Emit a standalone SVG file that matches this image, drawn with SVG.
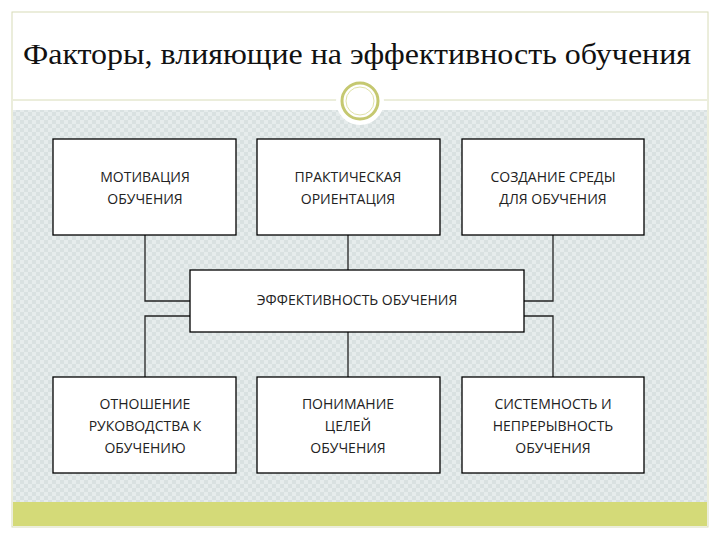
<svg xmlns="http://www.w3.org/2000/svg" width="720" height="540" viewBox="0 0 720 540">
<defs>
<pattern id="p" width="8" height="8" patternUnits="userSpaceOnUse"><rect width="8" height="8" fill="#d9e1e1"/><rect width="4" height="4" fill="#e6ecec"/><rect x="4" y="4" width="4" height="4" fill="#e6ecec"/></pattern>
</defs>
<style>
.b{fill:#fff;stroke:#000;stroke-width:1.3}
.t{font-family:"Open Sans","DejaVu Sans",sans-serif;font-size:14px;text-anchor:middle;fill:#222}
.c{fill:none;stroke:#222;stroke-width:1.3}
</style>
<rect x="0" y="0" width="720" height="540" fill="#fff"/>
<rect x="12" y="12" width="696" height="515" fill="#fff" stroke="#d8dcb8"/>
<rect x="13" y="110" width="694" height="392" fill="url(#p)"/>
<rect x="13" y="502" width="694" height="24" fill="#d4da78"/>
<line x1="13" y1="100" x2="707" y2="100" stroke="#d8dcb8"/>
<text x="357" y="64" font-family="Liberation Serif,serif" font-size="29" text-anchor="middle" fill="#111" textLength="668" lengthAdjust="spacingAndGlyphs">Факторы, влияющие на эффективность обучения</text>
<circle cx="360" cy="101" r="24" fill="#fff"/>
<circle cx="360" cy="101" r="18" fill="#fff" stroke="#c5c870" stroke-width="3"/>
<circle cx="360" cy="101" r="14" fill="none" stroke="#e0e2a8" stroke-width="1"/>
<g id="connectors" class="c">
<path d="M145 235V301H190"/><path d="M553 235V301H524"/><path d="M348 235V270"/>
<path d="M190 316H145V377"/><path d="M524 316H553V377"/><path d="M348 332V377"/>
</g>
<g id="n1"><rect class="b" x="53" y="139" width="183" height="96"/><text class="t" x="145" y="182">МОТИВАЦИЯ</text><text class="t" x="145" y="204">ОБУЧЕНИЯ</text></g>
<g id="n2"><rect class="b" x="257" y="139" width="183" height="96"/><text class="t" x="348" y="182">ПРАКТИЧЕСКАЯ</text><text class="t" x="348" y="204">ОРИЕНТАЦИЯ</text></g>
<g id="n3"><rect class="b" x="462" y="139" width="182" height="96"/><text class="t" x="553" y="182">СОЗДАНИЕ СРЕДЫ</text><text class="t" x="553" y="204">ДЛЯ ОБУЧЕНИЯ</text></g>
<g id="n4"><rect class="b" x="190" y="270" width="334" height="62"/><text class="t" x="357" y="305">ЭФФЕКТИВНОСТЬ ОБУЧЕНИЯ</text></g>
<g id="n5"><rect class="b" x="53" y="377" width="183" height="96"/><text class="t" x="145" y="409">ОТНОШЕНИЕ</text><text class="t" x="145" y="431">РУКОВОДСТВА К</text><text class="t" x="145" y="453">ОБУЧЕНИЮ</text></g>
<g id="n6"><rect class="b" x="257" y="377" width="183" height="96"/><text class="t" x="348" y="409">ПОНИМАНИЕ</text><text class="t" x="348" y="431">ЦЕЛЕЙ</text><text class="t" x="348" y="453">ОБУЧЕНИЯ</text></g>
<g id="n7"><rect class="b" x="462" y="377" width="182" height="96"/><text class="t" x="553" y="409">СИСТЕМНОСТЬ И</text><text class="t" x="553" y="431">НЕПРЕРЫВНОСТЬ</text><text class="t" x="553" y="453">ОБУЧЕНИЯ</text></g>
</svg>
